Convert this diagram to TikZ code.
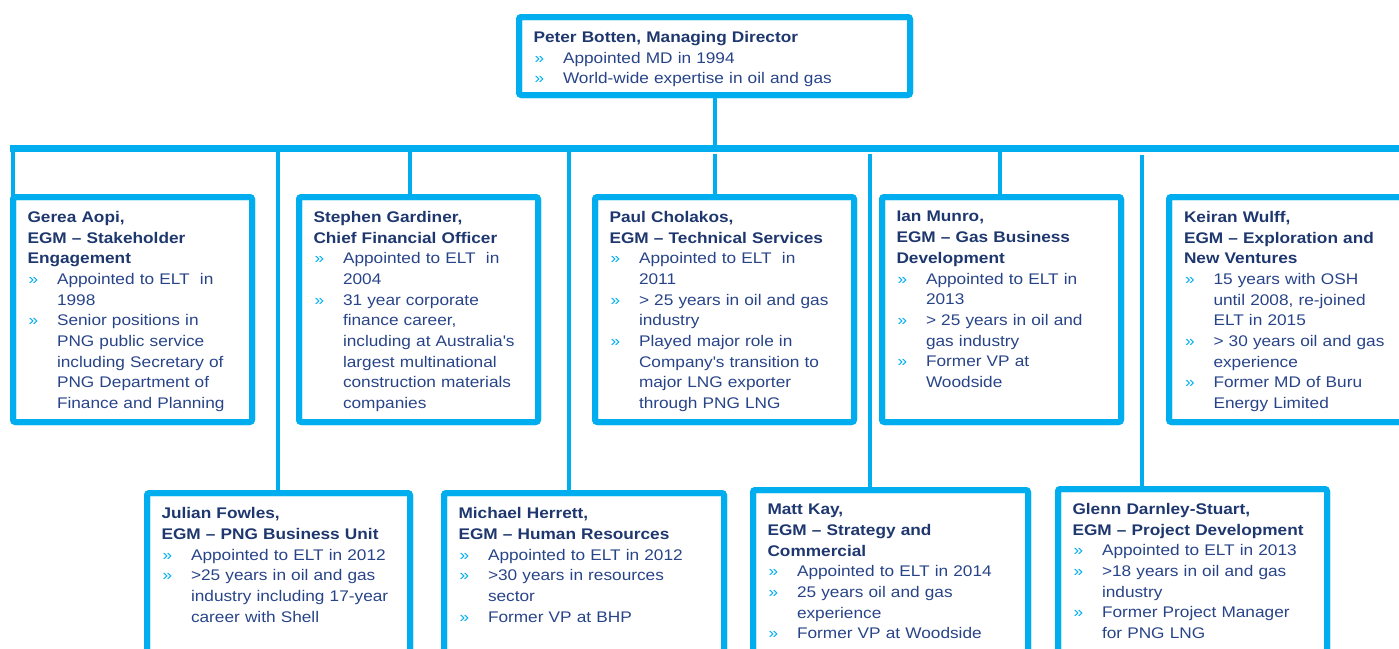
\documentclass[tikz,border=0pt]{standalone}
\usepackage{fontspec}
\setmainfont{Liberation Sans}[FakeStretch=1.12]
\definecolor{lineblue}{RGB}{0,174,239}
\definecolor{navy}{RGB}{30,55,110}
\definecolor{bodyblue}{RGB}{40,68,136}
\newcommand\mystrut{\rule[-5pt]{0pt}{15pt}}
\newcommand\ttl[1]{\noindent\mystrut\textbf{\color{navy}#1}\par}
\newcommand\bl[1]{\par\noindent\hangindent=29.5pt\hangafter=1\makebox[29.5pt][l]{\hspace{1pt}\textcolor{lineblue}{»}}#1\par}
\tikzset{
  boxst/.style={draw=lineblue, line width=6pt, rounded corners=2.5pt, inner sep=0pt, outer sep=0pt, anchor=north west},
  txt/.style={anchor=north west, inner sep=0pt, outer sep=0pt, text width=420pt, align=left,
              font=\fontsize{15.4}{20.67}\selectfont, text=bodyblue},
  conn/.style={draw=lineblue, line width=4pt},
  busst/.style={draw=lineblue, line width=7pt}
}
\begin{document}
\begin{tikzpicture}[x=1pt,y=-1pt]
\useasboundingbox (0,0) rectangle (1399,648);
\clip (0,0) rectangle (1399,648);

% box frames (positions only)
\node[boxst, minimum width=391pt, minimum height=78pt] (md) at (519,17) {};
\node[boxst, minimum width=239pt, minimum height=225pt] (gerea) at (13,197) {};
\node[boxst, minimum width=239pt, minimum height=225pt] (stephen) at (299,197) {};
\node[boxst, minimum width=259pt, minimum height=225pt] (paul) at (595,197) {};
\node[boxst, minimum width=239pt, minimum height=225pt] (ian) at (882,197) {};
\node[boxst, minimum width=260pt, minimum height=225pt] (keiran) at (1169,197) {};
\node[boxst, minimum width=263pt, minimum height=200pt] (julian) at (147,493) {};
\node[boxst, minimum width=280pt, minimum height=200pt] (michael) at (444,493) {};
\node[boxst, minimum width=275pt, minimum height=200pt] (matt) at (753,490) {};
\node[boxst, minimum width=269pt, minimum height=200pt] (glenn) at (1058,489) {};

% bus and connector anchors
\coordinate (busL) at (10,148.7);
\coordinate (busR) at (1405,148.7);
\coordinate (stephen-c) at ([xshift=111pt]stephen.north west);
\coordinate (paul-c) at (md.south |- paul.north);
\coordinate (ian-c) at ([xshift=118pt]ian.north west);
\coordinate (julian-c) at ([xshift=131pt]julian.north west);
\coordinate (michael-c) at ([xshift=125pt]michael.north west);
\coordinate (matt-c) at ([xshift=117pt]matt.north west);
\coordinate (glenn-c) at ([xshift=84pt]glenn.north west);

\draw[conn] (md.south) -- (md.south |- busL);
\draw[busst] (busL) -- (busR);
\draw[conn] (gerea.north west) -- (gerea.north west |- busL);
\draw[conn] (stephen-c) -- (stephen-c |- busL);
\draw[conn] (paul-c) -- ([yshift=-5.5pt]paul-c |- busL);
\draw[conn] (ian-c) -- (ian-c |- busL);
\draw[conn] (julian-c) -- (julian-c |- busL);
\draw[conn] (michael-c) -- (michael-c |- busL);
\draw[conn] (matt-c) -- ([yshift=-5pt]matt-c |- busL);
\draw[conn] (glenn-c) -- ([yshift=-6pt]glenn-c |- busL);

% redraw frames on top of connector ends
\foreach \n in {md,gerea,stephen,paul,ian,keiran,julian,michael,matt,glenn}{
  \draw[draw=lineblue, line width=6pt, rounded corners=2.5pt] (\n.north west) rectangle (\n.south east);
}

% texts
\node[txt] (md-t) at (533.5,31.4) {\ttl{Peter Botten, Managing Director}\bl{Appointed MD in 1994}\bl{World-wide expertise in oil and gas}};

\node[txt] (gerea-t) at (27.5,211.4) {\ttl{Gerea Aopi,\newline EGM – Stakeholder\newline Engagement}\bl{Appointed to ELT~ in\newline 1998}\bl{Senior positions in\newline PNG public service\newline including Secretary of\newline PNG Department of\newline Finance and Planning}};

\node[txt] (stephen-t) at (313.5,211.4) {\ttl{Stephen Gardiner,\newline Chief Financial Officer}\bl{Appointed to ELT~ in\newline 2004}\bl{31 year corporate\newline finance career,\newline including at Australia\textquotesingle s\newline largest multinational\newline construction materials\newline companies}};

\node[txt] (paul-t) at (609.5,211.4) {\ttl{Paul Cholakos,\newline EGM – Technical Services}\bl{Appointed to ELT~ in\newline 2011}\bl{> 25 years in oil and gas\newline industry}\bl{Played major role in\newline Company\textquotesingle s transition to\newline major LNG exporter\newline through PNG LNG}};

\node[txt] (ian-t) at (896.5,211.4) {\ttl{Ian Munro,\newline EGM – Gas Business\newline Development}\bl{Appointed to ELT in\newline 2013}\bl{> 25 years in oil and\newline gas industry}\bl{Former VP at\newline Woodside}};

\node[txt] (keiran-t) at (1184,211.4) {\ttl{Keiran Wulff,\newline EGM – Exploration and\newline New Ventures}\bl{15 years with OSH\newline until 2008, re-joined\newline ELT in 2015}\bl{> 30 years oil and gas\newline experience}\bl{Former MD of Buru\newline Energy Limited}};

\node[txt] (julian-t) at (161.5,507.7) {\ttl{Julian Fowles,\newline EGM – PNG Business Unit}\bl{Appointed to ELT in 2012}\bl{>25 years in oil and gas\newline industry including 17-year\newline career with Shell}};

\node[txt] (michael-t) at (458.5,507.7) {\ttl{Michael Herrett,\newline EGM – Human Resources}\bl{Appointed to ELT in 2012}\bl{>30 years in resources\newline sector}\bl{Former VP at BHP}};

\node[txt] (matt-t) at (767.5,504.2) {\ttl{Matt Kay,\newline EGM – Strategy and\newline Commercial}\bl{Appointed to ELT in 2014}\bl{25 years oil and gas\newline experience}\bl{Former VP at Woodside}};

\node[txt] (glenn-t) at (1072.5,503.2) {\ttl{Glenn Darnley-Stuart,\newline EGM – Project Development}\bl{Appointed to ELT in 2013}\bl{>18 years in oil and gas\newline industry}\bl{Former Project Manager\newline for PNG LNG}};
\end{tikzpicture}
\end{document}
